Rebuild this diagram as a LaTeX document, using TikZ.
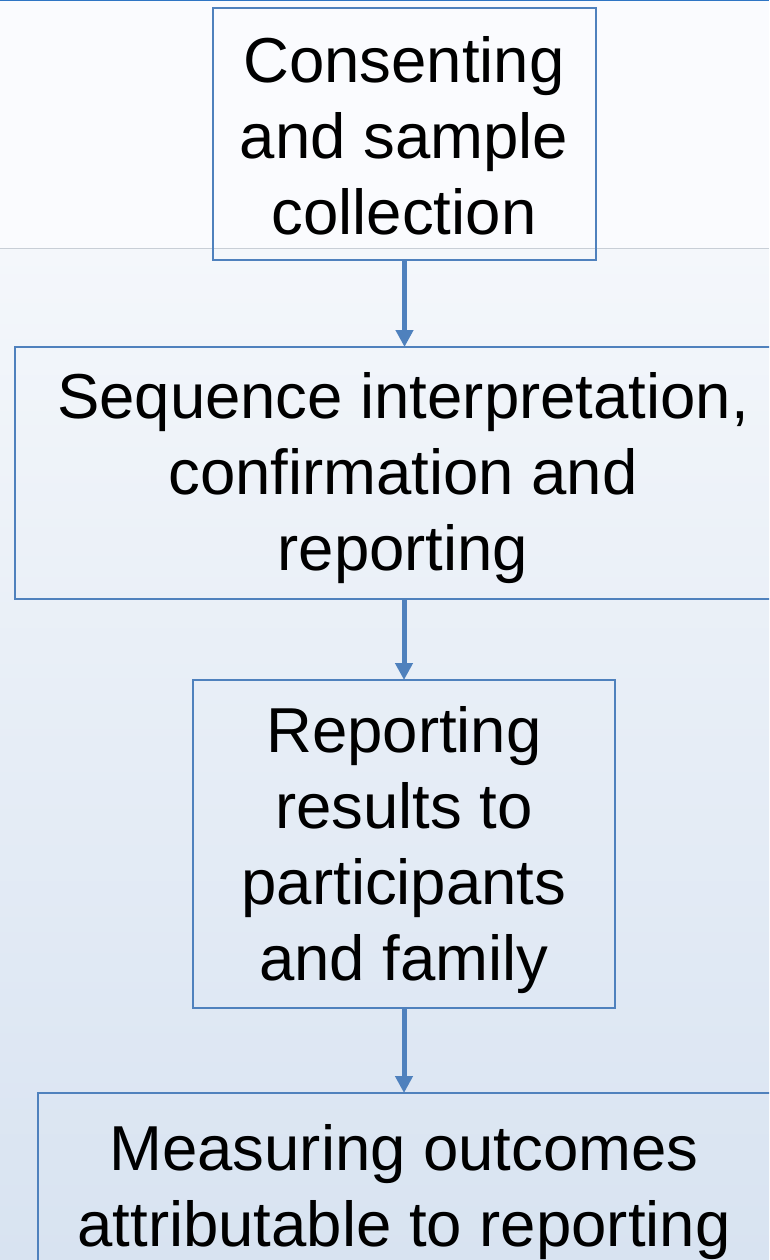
\documentclass[tikz,border=0pt]{standalone}
\usepackage{fontspec}
\setmainfont{Liberation Sans}
\usetikzlibrary{arrows.meta}
\definecolor{boxblue}{RGB}{79,129,189}
\definecolor{topline}{RGB}{46,117,196}
\definecolor{bgtop}{RGB}{250,251,254}
\definecolor{bgmid}{RGB}{244,247,251}
\definecolor{bgbot}{RGB}{216,227,241}
\definecolor{sepline}{RGB}{200,206,214}
\begin{document}
\begin{tikzpicture}[x=1pt,y=-1pt,
  stepbox/.style={draw=boxblue,line width=1.6pt,fill=none,inner sep=0pt,outer sep=0pt,anchor=north west},
  steptext/.style={align=center,font=\fontsize{63.5}{76}\selectfont,inner sep=0pt,anchor=north,text=black},
  flow/.style={draw=boxblue,line width=5pt,-{Triangle[width=17pt,length=17pt]}}]
\useasboundingbox (0,0) rectangle (769,1260);
\clip (0,0) rectangle (769,1260);
% background
\fill[bgtop] (0,0) rectangle (769,248);
\shade[top color=bgmid,bottom color=bgbot] (0,248) rectangle (769,1260);
\draw[sepline,line width=1pt] (0,248) -- (769,248);
\draw[topline,line width=2.5pt] (0,0) -- (769,0);
% boxes
\node[stepbox,minimum width=383pt,minimum height=252pt] (b1) at (213,8) {};
\node[stepbox,minimum width=790pt,minimum height=252pt] (b2) at (15,347) {};
\node[stepbox,minimum width=422pt,minimum height=328pt] (b3) at (193,680) {};
\node[stepbox,minimum width=790pt,minimum height=250pt] (b4) at (38,1093) {};
% texts
\node[steptext] (t1) at (404,36.5) {Consenting\\and sample\\collection};
\node[steptext] (t2) at (403,372.5) {Sequence interpretation,\\confirmation and\\reporting};
\node[steptext] (t3) at (404,706.5) {Reporting\\results to\\participants\\and family};
\node[steptext] (t4) at (404,1124.5) {Measuring outcomes\\attributable to reporting};
% arrows
\draw[flow] (b1.south) -- (b1.south |- b2.north);
\draw[flow] (b3.north |- b2.south) -- (b3.north);
\draw[flow] (b3.south) -- (b3.south |- b4.north);
\end{tikzpicture}
\end{document}
